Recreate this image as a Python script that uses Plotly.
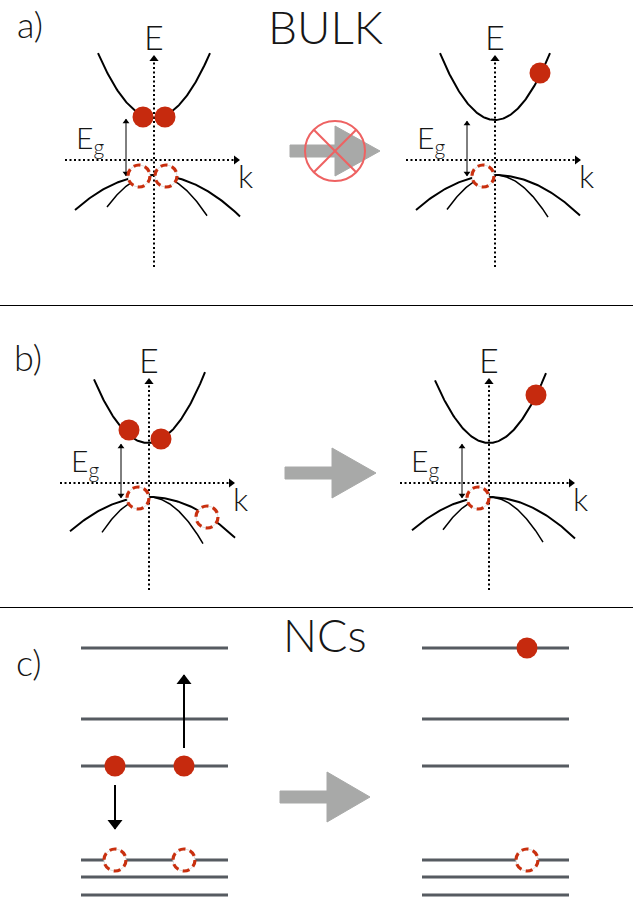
import numpy as np
import plotly.graph_objects as go

W, H = 633, 900

# ---------------- band diagrams a) and b) ----------------
# local units: k to the right, E upward, origin where the dotted axes cross
diagram_origin_x = [154, 495, 149, 489]
diagram_origin_y = [160, 160, 483, 483]

cb_min_E = [42, 40, 40, 40]
cb_min_k = [0, 0, -1, 0]
cb_curv = [0.0207, 0.0221, 0.0218, 0.0215]
cb_k_left = [-56, -55, -55, -54]
cb_k_right = [56, 55, 56, 57]

vb_max_E = [-15, -15, -14, -14]
hh_curv = [0.0056, 0.0056, 0.0055, 0.0056]
hh_k_range = [(-79, 86), (-79, 85), (-79, 86), (-77, 86)]
lh_curv = [0.0145, 0.0150, 0.0160, 0.0155]
lh_k_range = [(-47, 53), (-48, 53), (-47, 54), (-46, 54)]

electron_k = [[-11, 11], [45], [-20, 12], [47]]
electron_E = [[43, 43], [87], [53, 44], [88]]
hole_k = [[-15, 12], [-12], [-11, 58], [-11]]
hole_E = [[-16, -16], [-16], [-15, -34], [-15]]
gap_arrow_k = [-28, -28, -28, -27]

E_axis_range = (-107, 105)
k_axis_range = (-89, 86)

# ---------------- nanocrystal levels c) ----------------
level_y = [648, 719, 766, 860, 877, 895]
levels_x_left = (81, 228)
levels_x_right = (422, 569)
nc_electron_x = [115, 184, 527]
nc_electron_y = [766, 766, 648]
nc_hole_x = [115, 184, 527]
nc_hole_y = [860, 860, 860]
nc_transition_x = [115, 184]
nc_transition_from = [785, 748]
nc_transition_to = [835, 669]

# ---------------- big grey arrows ----------------
big_arrow_tail = [290, 285, 280]
big_arrow_base = [335, 332, 327]
big_arrow_tip = [380, 376, 370]
big_arrow_y = [151, 473, 797]
forbidden_center = (335, 151)
forbidden_radius = 30

separators_y = [305.5, 607.5]

ELEC = "#c62a0e"
HOLE = "#c9300f"
GREY = "#a8a9a8"
LEVEL = "#565b61"
FONT = "Lato"

fig = go.Figure()
shapes = []
annotations = []


def txt(x, y, s, size, anchor="center"):
    annotations.append(dict(x=x, y=y, xref="x", yref="y", text=s, showarrow=False,
                            xanchor=anchor, yanchor="middle",
                            font=dict(family=FONT, size=size, color="#161616", weight=300)))


def hole(x, y, r=11):
    shapes.append(dict(type="circle", xref="x", yref="y", x0=x - r, x1=x + r, y0=y - r, y1=y + r,
                       fillcolor="white", line=dict(color="#dddddd", width=1), layer="above"))
    shapes.append(dict(type="circle", xref="x", yref="y", x0=x - r, x1=x + r, y0=y - r, y1=y + r,
                       fillcolor="rgba(0,0,0,0)", line=dict(color=HOLE, width=3.2, dash="7px,4.5px"),
                       layer="above"))


def vertical_arrow(x, y_from, y_to, width, head, both=False):
    fig.add_trace(go.Scatter(x=[x, x], y=[y_from, y_to], mode="lines",
                             line=dict(color="black", width=width), hoverinfo="skip"))
    up = y_to < y_from
    hx, hy, hs = [x], [y_to + (head * 0.45 if up else -head * 0.45)], ["triangle-up" if up else "triangle-down"]
    if both:
        hx.append(x)
        hy.append(y_from + (-head * 0.45 if up else head * 0.45))
        hs.append("triangle-down" if up else "triangle-up")
    fig.add_trace(go.Scatter(x=hx, y=hy, mode="markers",
                             marker=dict(symbol=hs, size=head, color="black", line=dict(width=0)),
                             hoverinfo="skip"))


for i in range(4):
    ox, oy = diagram_origin_x[i], diagram_origin_y[i]
    X = lambda k: ox + np.asarray(k, dtype=float)
    Y = lambda E: oy - np.asarray(E, dtype=float)

    # dotted axes
    fig.add_trace(go.Scatter(x=X([0, 0]), y=Y([E_axis_range[0], E_axis_range[1] - 4]), mode="lines",
                             line=dict(color="black", width=2, dash="2px,2.5px"), hoverinfo="skip"))
    fig.add_trace(go.Scatter(x=X([k_axis_range[0], k_axis_range[1] - 4]), y=Y([0, 0]), mode="lines",
                             line=dict(color="black", width=2, dash="2px,2.5px"), hoverinfo="skip"))
    fig.add_trace(go.Scatter(x=X([0]), y=Y([E_axis_range[1] - 4]), mode="markers",
                             marker=dict(symbol="triangle-up", size=8, color="black"), hoverinfo="skip"))
    fig.add_trace(go.Scatter(x=X([k_axis_range[1] - 4]), y=Y([0]), mode="markers",
                             marker=dict(symbol="triangle-right", size=8, color="black"), hoverinfo="skip"))

    # conduction band
    k = np.linspace(cb_k_left[i], cb_k_right[i], 120)
    E = cb_min_E[i] + cb_curv[i] * (k - cb_min_k[i]) ** 2
    fig.add_trace(go.Scatter(x=X(k), y=Y(E), mode="lines", line=dict(color="black", width=2),
                             hoverinfo="skip"))
    # heavy-hole band
    k = np.linspace(hh_k_range[i][0], hh_k_range[i][1], 120)
    E = vb_max_E[i] - hh_curv[i] * k ** 2
    fig.add_trace(go.Scatter(x=X(k), y=Y(E), mode="lines", line=dict(color="black", width=2),
                             hoverinfo="skip"))
    # light-hole band
    k = np.linspace(lh_k_range[i][0], lh_k_range[i][1], 120)
    E = vb_max_E[i] - lh_curv[i] * k ** 2
    fig.add_trace(go.Scatter(x=X(k), y=Y(E), mode="lines", line=dict(color="black", width=1.5),
                             hoverinfo="skip"))

    # electrons
    fig.add_trace(go.Scatter(x=X(electron_k[i]), y=Y(electron_E[i]), mode="markers",
                             marker=dict(size=21, color=ELEC, line=dict(width=0)), hoverinfo="skip"))
    # holes
    for hk, hE in zip(hole_k[i], hole_E[i]):
        hole(float(X(hk)), float(Y(hE)))

    # band gap arrow (double headed)
    gx = float(X(gap_arrow_k[i]))
    vertical_arrow(gx, float(Y(vb_max_E[i] - 1)), float(Y(cb_min_E[i] - 1)), 1, 6, both=True)

    # labels
    txt(float(X(0)), float(Y(124)), "E", 34)
    txt(float(X(91)), float(Y(-15)), "k", 32)
    txt(float(X(-64)), float(Y(21)), "E<sub>g</sub>", 30)

# ---------------- c) levels ----------------
for xr in (levels_x_left, levels_x_right):
    for ly in level_y:
        fig.add_trace(go.Scatter(x=list(xr), y=[ly, ly], mode="lines",
                                 line=dict(color=LEVEL, width=3.2), hoverinfo="skip"))
fig.add_trace(go.Scatter(x=nc_electron_x, y=nc_electron_y, mode="markers",
                         marker=dict(size=21, color=ELEC, line=dict(width=0)), hoverinfo="skip"))
for hx, hy in zip(nc_hole_x, nc_hole_y):
    hole(hx, hy)
for tx, t0, t1 in zip(nc_transition_x, nc_transition_from, nc_transition_to):
    vertical_arrow(tx, t0, t1 + (-6 if t1 > t0 else 6), 2, 13)

# ---------------- grey arrows ----------------
for ta, ba, tp, cy in zip(big_arrow_tail, big_arrow_base, big_arrow_tip, big_arrow_y):
    px = [ta, ba, ba, tp, ba, ba, ta, ta]
    py = [cy - 6, cy - 6, cy - 25, cy, cy + 25, cy + 6, cy + 6, cy - 6]
    fig.add_trace(go.Scatter(x=px, y=py, mode="lines", fill="toself", fillcolor=GREY,
                             line=dict(color=GREY, width=1), hoverinfo="skip"))

cx, cy = forbidden_center
r = forbidden_radius
shapes.append(dict(type="circle", xref="x", yref="y", x0=cx - r, x1=cx + r, y0=cy - r, y1=cy + r,
                   line=dict(color="#ee6262", width=2), layer="above"))
d = r * np.cos(np.pi / 4)
for sgn in (1, -1):
    shapes.append(dict(type="line", xref="x", yref="y", x0=cx - d, x1=cx + d, y0=cy - sgn * d,
                       y1=cy + sgn * d, line=dict(color="#ee6262", width=2), layer="above"))

# separators
for sy in separators_y:
    shapes.append(dict(type="line", xref="x", yref="y", x0=0, x1=W, y0=sy, y1=sy,
                       line=dict(color="black", width=1), layer="above"))

# titles / panel labels
txt(30, 24, "a)", 36)
txt(28, 357, "b)", 36)
txt(29, 662, "c)", 36)
txt(325, 26, "BULK", 46)
txt(325, 635, "NCs", 45)

fig.update_layout(
    width=W, height=H, margin=dict(l=0, r=0, t=0, b=0),
    paper_bgcolor="white", plot_bgcolor="white", showlegend=False,
    xaxis=dict(range=[0, W], visible=False, fixedrange=True),
    yaxis=dict(range=[H, 0], visible=False, fixedrange=True),
    shapes=shapes, annotations=annotations,
)
fig.write_html("out.html")
